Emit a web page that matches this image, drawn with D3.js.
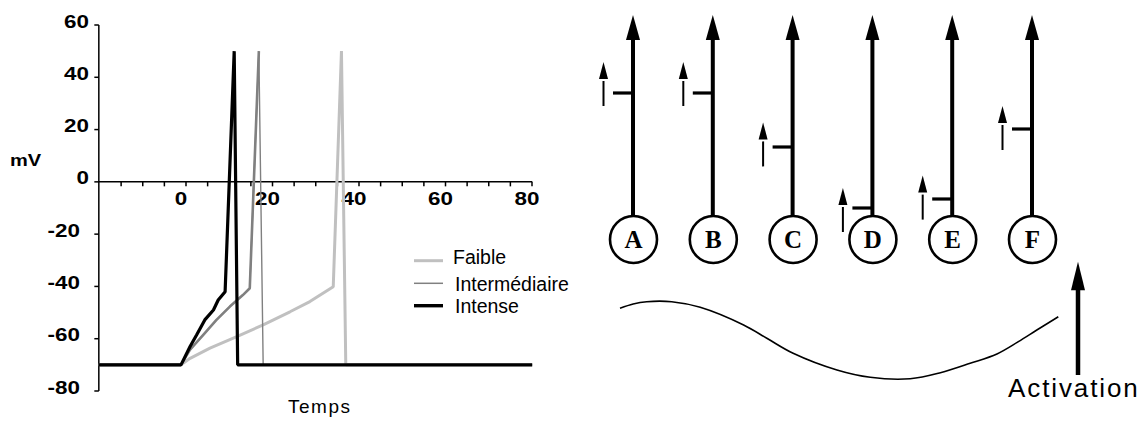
<!DOCTYPE html>
<html><head><meta charset="utf-8">
<script src="https://cdn.jsdelivr.net/npm/d3@7"></script>
<style>body{margin:0;background:#fff}svg{display:block}</style>
</head><body><svg id="c" width="1147" height="428"></svg>
<script>
// ---------- chart data ----------
const yTicks = [-80, -60, -40, -20, 0, 20, 40, 60];
const xTickLabels = [0, 20, 40, 60, 80];
const xMinorTicks = [-15, -10, -5, 0, 5, 10, 15, 20, 25, 30, 35, 40, 45, 50, 55, 60, 65, 70, 75, 80];
const seriesNames = ["Faible", "Intermédiaire", "Intense"];
const faibleT = [-19, 0, 2.1, 6.7, 12.9, 19.0, 25.2, 29.8, 35.2, 37.1, 38.1, 81.2];
const faibleV = [-70, -70, -67.5, -63.6, -59.2, -54.7, -49.7, -45.8, -40.1, 50, -70, -70];
const interT = [-19, 0, 2.1, 5.1, 8.2, 11.3, 14.3, 15.9, 18.0, 19.0, 81.2];
const interV = [-70, -70, -64.2, -58.6, -52.8, -47.7, -43.3, -40.7, 50, -70, -70];
const intenseT = [-19, 0, 2.1, 3.6, 5.5, 7.5, 8.6, 10.2, 12.3, 13.1, 81.2];
const intenseV = [-70, -70, -63.0, -58.6, -52.8, -49.0, -45.2, -42.0, 50, -70, -70];

// ---------- diagram data ----------
const neurons = ["A", "B", "C", "D", "E", "F"];
const thresholds = [61, 61, 34, 3.5, 8, 43];
const signalTips = [76.5, 76.5, 46.3, 13.5, 19.7, 54.5];
const stimT = [0, 3.0, 6.1, 11.8, 18.3, 28.2, 33.5, 39.5, 49.5, 57.1, 66.2, 73.1, 79.9, 86.0, 90.9, 95.1, 100];
const stimA = [91.4, 97.0, 100, 100, 92.7, 69.7, 52.5, 33.0, 11.3, 1.8, 0, 7.8, 20, 32.1, 48.1, 63.2, 80.5];

const svg = d3.select("#c");
const SANS = "Arial, 'Liberation Sans', sans-serif";
const SERIF = "'Times New Roman', 'Liberation Serif', serif";

// ---------- left chart ----------
const x = d3.scaleLinear().domain([0, 80]).range([181, 527]);
const y = d3.scaleLinear().domain([-80, 60]).range([391, 25]);
const axisX0 = x(-19), axisX1 = x(81.2);

const g = svg.append("g");
// y axis
g.append("line").attr("x1", axisX0).attr("x2", axisX0).attr("y1", y(60)).attr("y2", y(-80))
  .attr("stroke", "#000").attr("stroke-width", 1.5);
g.selectAll(".yt").data(yTicks).join("line")
  .attr("x1", axisX0 - 4.5).attr("x2", axisX0).attr("y1", d => y(d)).attr("y2", d => y(d))
  .attr("stroke", "#000").attr("stroke-width", 1.5);
g.selectAll(".yl").data(yTicks).join("text")
  .attr("transform", d => `translate(${d < 0 ? 80 : 89},${y(d) + 2.5}) scale(1.18,1)`)
  .attr("text-anchor", "end").attr("font-family", SANS).attr("font-weight", "bold")
  .attr("font-size", 19).text(d => d);
// x axis
g.append("line").attr("x1", axisX0).attr("x2", axisX1).attr("y1", y(0)).attr("y2", y(0))
  .attr("stroke", "#000").attr("stroke-width", 1.5);
g.selectAll(".xt").data(xMinorTicks).join("line")
  .attr("x1", d => x(d) + 5).attr("x2", d => x(d) + 5).attr("y1", y(0)).attr("y2", y(0) + 4.5)
  .attr("stroke", "#000").attr("stroke-width", 1.5);
g.selectAll(".xl").data(xTickLabels).join("text")
  .attr("transform", d => `translate(${x(d)},${y(0) + 23.5}) scale(1.18,1)`)
  .attr("text-anchor", "middle").attr("font-family", SANS).attr("font-weight", "bold")
  .attr("font-size", 19).text(d => d);
// axis titles
g.append("text").attr("transform", "translate(10,165.5) scale(1.18,1)")
  .attr("font-family", SANS).attr("font-weight", "bold").attr("font-size", 17).text("mV");
g.append("text").attr("x", 288).attr("y", 413.3).attr("textLength", 62)
  .attr("font-family", SANS).attr("font-size", 19).text("Temps");

const line = d3.line().x(d => x(d[0])).y(d => y(d[1]));
const faible = faibleT.map((t, i) => [t, faibleV[i]]);
const inter = interT.map((t, i) => [t, interV[i]]);
const intense = intenseT.map((t, i) => [t, intenseV[i]]);

g.append("path").attr("d", line(faible)).attr("fill", "none")
  .attr("stroke", "#c0c0c0").attr("stroke-width", 3).attr("stroke-linejoin", "bevel");
g.append("path").attr("d", line(inter)).attr("fill", "none")
  .attr("stroke", "#808080").attr("stroke-width", 1.4).attr("stroke-linejoin", "bevel");
g.append("path").attr("d", line(inter.slice(0, 9))).attr("fill", "none")
  .attr("stroke", "#808080").attr("stroke-width", 2.6).attr("stroke-linejoin", "bevel");
g.append("path").attr("d", line(intense)).attr("fill", "none")
  .attr("stroke", "#000").attr("stroke-width", 3.2).attr("stroke-linejoin", "bevel");

// legend
const legColors = ["#c0c0c0", "#808080", "#000"];
const legWidths = [3, 1.5, 3.4];
const legY = [260.7, 283.3, 305.7];
const legBase = [264, 290.7, 313.3];
const legTextX = [453, 455, 455];
seriesNames.forEach((n, i) => {
  g.append("line").attr("x1", 414).attr("x2", 443).attr("y1", legY[i]).attr("y2", legY[i])
    .attr("stroke", legColors[i]).attr("stroke-width", legWidths[i]);
  g.append("text").attr("x", legTextX[i]).attr("y", legBase[i])
    .attr("font-family", SANS).attr("font-size", 19.5).attr("fill", "#000").text(n);
});

// ---------- right diagram ----------
const xn = d3.scalePoint().domain(neurons).range([633, 1032]);
const yn = d3.scaleLinear().domain([0, 100]).range([215, 15]);
const d2 = svg.append("g");

const arrowHead = (cx, tip, w, h) => `M${cx},${tip}L${cx - w / 2},${tip + h}L${cx + w / 2},${tip + h}Z`;

neurons.forEach((n, i) => {
  const cx = xn(n);
  // main axon
  d2.append("line").attr("x1", cx).attr("x2", cx).attr("y1", yn(100) + 24).attr("y2", yn(0))
    .attr("stroke", "#000").attr("stroke-width", 4);
  d2.append("path").attr("d", arrowHead(cx, yn(100), 14, 25)).attr("fill", "#000");
  // threshold mark
  d2.append("line").attr("x1", cx - 20).attr("x2", cx).attr("y1", yn(thresholds[i])).attr("y2", yn(thresholds[i]))
    .attr("stroke", "#000").attr("stroke-width", 3.2);
  // small signal arrow
  const sx = cx - 29.5, tip = yn(signalTips[i]);
  d2.append("path").attr("d", arrowHead(sx, tip, 9, 17)).attr("fill", "#000");
  d2.append("line").attr("x1", sx).attr("x2", sx).attr("y1", tip + 19).attr("y2", tip + 44)
    .attr("stroke", "#000").attr("stroke-width", 2);
  // cell body
  d2.append("circle").attr("cx", cx + 0.5).attr("cy", 239.5).attr("r", 23.5)
    .attr("fill", "#fff").attr("stroke", "#000").attr("stroke-width", 2.6);
  d2.append("text").attr("x", cx + 0.5).attr("y", 248).attr("text-anchor", "middle")
    .attr("font-family", SERIF).attr("font-weight", "bold").attr("font-size", 25).text(n);
});

// stimulus curve
const xs = d3.scaleLinear().domain([0, 100]).range([620, 1058.3]);
const ys = d3.scaleLinear().domain([0, 100]).range([378.7, 301.7]);
const stim = stimT.map((t, i) => [t, stimA[i]]);
d2.append("path").attr("d", d3.line().x(d => xs(d[0])).y(d => ys(d[1])).curve(d3.curveCatmullRom)(stim))
  .attr("fill", "none").attr("stroke", "#000").attr("stroke-width", 1.6);

// activation arrow
const ax = 1078;
d2.append("path").attr("d", arrowHead(ax, 261.7, 14, 28.5)).attr("fill", "#000");
d2.append("line").attr("x1", ax).attr("x2", ax).attr("y1", 289).attr("y2", 375)
  .attr("stroke", "#000").attr("stroke-width", 4.5);
d2.append("text").attr("x", 1008).attr("y", 397.3).attr("font-family", SANS)
  .attr("font-size", 26).attr("letter-spacing", 1.9).text("Activation");
</script></body></html>
